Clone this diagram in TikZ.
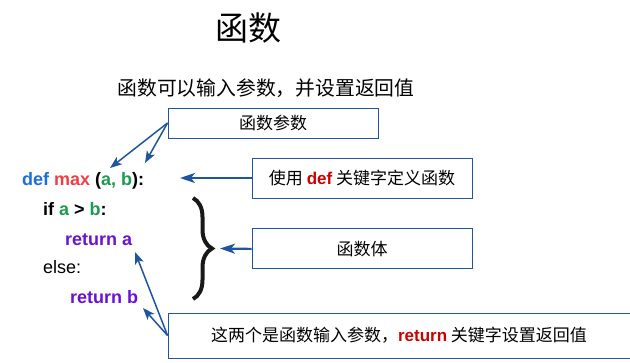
\documentclass[tikz,border=0pt]{standalone}
\usepackage{fontspec}
\setmainfont{Liberation Sans}
\newfontfamily\cjk{Noto Sans CJK SC}
\usetikzlibrary{arrows.meta,positioning,calc,decorations.pathreplacing}
\definecolor{lineblue}{HTML}{1F55A0}
\definecolor{kwblue}{HTML}{1B6FD8}
\definecolor{fnred}{HTML}{EE3F47}
\definecolor{argreen}{HTML}{1C9A4F}
\definecolor{retpurple}{HTML}{6A12D2}
\definecolor{tagred}{HTML}{CC0000}

\begin{document}
\begin{tikzpicture}[
  x=1pt, y=-1pt,
  line/.style={draw=lineblue, line width=2.2pt, -{Stealth[length=15pt,width=10pt,inset=4pt]}},
  thin line/.style={draw=lineblue, line width=1.5pt, -{Stealth[length=12pt,width=9pt,inset=3pt]}},
  box/.style={draw=lineblue, line width=0.9pt, inner sep=0pt, align=center, font=\cjk\fontsize{17}{20}\selectfont},
  code/.style={anchor=base west, inner sep=0pt, font=\fontsize{18}{20}\selectfont\bfseries},
  curly/.style={draw=black!90, line width=4pt, decorate, decoration={brace, amplitude=19pt}}
]
\useasboundingbox (0,0) rectangle (630,362);

\node (title) at (248,28) {\cjk\fontsize{33}{36}\selectfont 函数};
\node (subtitle) at (266,88) {\cjk\fontsize{19.8}{22}\selectfont 函数可以输入参数，并设置返回值};

% code lines
\node[code] (defline) at (22,185) {\textcolor{kwblue}{def} \textcolor{fnred}{max} (\textcolor{argreen}{a, b}):};
\node[code] (ifline) at (43,215) {if \textcolor{argreen}{a} > \textcolor{argreen}{b}:};
\node[code, text=retpurple] (retaline) at (65,245) {return a};
\node[code, font=\fontsize{18}{20}\selectfont] (elseline) at (43,273) {else:};
\node[code, text=retpurple] (retbline) at (70,303) {return b};

% note boxes
\node[box, minimum width=210pt, minimum height=30pt] (params) at (273,123) {函数参数};
\node[box, minimum width=220pt, minimum height=40pt] (defnote) at (362,178)
  {使用 {\fontspec{Liberation Sans}\bfseries\color{tagred}def} 关键字定义函数};
\node[box, minimum width=220pt, minimum height=40pt, below=30pt of defnote] (body) {函数体};
\node[box, minimum width=462pt, minimum height=45pt] (retnote) at (399,335.5)
  {这两个是函数输入参数，{\fontspec{Liberation Sans}\bfseries\color{tagred}return} 关键字设置返回值};

% brace round the body
\draw[curly] (193,198) -- (193,299);
\coordinate (bracetip) at (220,248.5);

\coordinate (parama) at (110,168);
\coordinate (paramb) at (145,163);
\coordinate (reta) at (135,252);
\coordinate (retb) at (143,308);
\coordinate (deftip) at (180,178);

\draw[thin line] (params.west) -- (parama);
\draw[thin line] (params.west) -- (paramb);
\draw[line] (defnote.west) -- (deftip);
\draw[line] (body.west) -- (bracetip);
\draw[thin line] (retnote.west) -- (reta);
\draw[thin line] (retnote.west) -- (retb);
\end{tikzpicture}
\end{document}
